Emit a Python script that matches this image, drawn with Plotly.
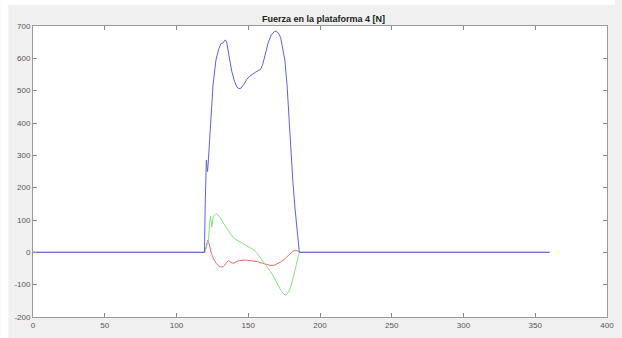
import plotly.graph_objects as go

# Force components on platform 4 (sampled time vs. newtons)
t_z = [0, 118, 119.5, 120, 120.4, 120.8, 121.2, 121.6, 122, 123, 124, 125.5, 127.5, 129.5,
       131, 132.5, 134, 135, 136.5, 138.5, 140.5, 142, 143.5, 145, 147, 149, 151, 153, 155,
       157, 158.5, 160, 162, 164, 166, 168, 169.5, 171, 172.5, 174, 175.5, 177, 178,
       179.5, 181, 182.5, 184, 185.6, 360]
f_z = [0, 0, 0, 150, 260, 285, 265, 250, 270, 340, 420, 520, 595, 630,
       645, 648, 657, 650, 610, 560, 528, 512, 506, 508, 520, 535, 545, 552, 557,
       562, 565, 580, 615, 650, 672, 682, 684, 678, 665, 635, 595, 520, 440,
       330, 225, 140, 65, 0, 0]

t_y = [0, 119, 120.5, 121.5, 122.3, 123, 123.7, 124.6, 125.5, 126.5, 127.6, 129, 131, 133,
       135.6, 138, 140.2, 143, 146, 150, 154, 157, 159.7, 162.5, 165.5, 168, 170, 172,
       173.5, 175, 176.5, 178, 179.7, 181.2, 182.6, 184, 185.6, 360]
f_y = [0, 0, 10, 25, 40, 85, 112, 78, 108, 115, 120, 115, 104, 88,
       69, 55, 43, 36, 28, 18, 7, -8, -24, -41, -60, -78, -96, -112,
       -122, -130, -132, -124, -106, -82, -55, -28, 0, 0]

t_x = [0, 119.6, 120.5, 121.3, 121.9, 122.8, 124.1, 125.8, 127.6, 129.5, 131, 132.5, 133.8,
       135, 136.1, 137, 138, 139.8, 141, 142.5, 145, 148.2, 152, 156.3, 160, 163.2, 166,
       168, 170, 172.5, 175, 177, 179, 181, 183, 184.5, 185.6, 360]
f_x = [0, 0, 15, 30, 38, 25, 0, -20, -34, -42, -46, -44, -39,
       -31, -26, -27, -32, -34, -31, -27, -25, -24, -26, -29, -34, -39, -41,
       -40, -36, -30, -22, -13, -4, 3, 6, 4, 0, 0]

x_ticks = [0, 50, 100, 150, 200, 250, 300, 350, 400]
y_ticks = [-200, -100, 0, 100, 200, 300, 400, 500, 600, 700]

W, H = 622, 338
ML, MR, MT, MB = 33, 8, 26, 21
pw, ph = W - ML - MR, H - MT - MB

fig = go.Figure()
fig.add_trace(go.Scatter(x=t_x, y=f_x, mode="lines", line=dict(color="#ee6a6a", width=1)))
fig.add_trace(go.Scatter(x=t_y, y=f_y, mode="lines", line=dict(color="#80e480", width=1)))
fig.add_trace(go.Scatter(x=t_z, y=f_z, mode="lines", line=dict(color="#5e5ef0", width=1)))

axis_common = dict(
    showline=True, linecolor="#9a9a9a", linewidth=1, mirror="ticks",
    ticks="inside", ticklen=4, tickcolor="#8a8a8a", tickwidth=1,
    showgrid=False, zeroline=False,
    tickfont=dict(family="Liberation Sans, Arial", size=8, color="#555555"),
)

def px_x(p):
    return (p - ML) / pw

def px_y(p):
    return (H - MB - p) / ph

# white border strips around the grey figure background
shapes = [
    dict(type="rect", xref="paper", yref="paper", layer="below",
         x0=px_x(0), x1=px_x(W), y0=px_y(5), y1=px_y(0),
         fillcolor="white", line=dict(width=0)),
    dict(type="rect", xref="paper", yref="paper", layer="below",
         x0=px_x(0), x1=px_x(8), y0=px_y(H), y1=px_y(0),
         fillcolor="white", line=dict(width=0)),
]

fig.update_layout(
    width=W, height=H,
    margin=dict(l=ML, r=MR, t=MT, b=MB),
    paper_bgcolor="#f0f0f0", plot_bgcolor="white",
    showlegend=False,
    title=dict(text="<b>Fuerza en la plataforma 4 [N]</b>",
               x=(ML + pw / 2) / W, xanchor="center",
               y=1 - 19 / H, yanchor="middle",
               font=dict(family="Liberation Sans, Arial", size=9, color="#222222")),
    xaxis=dict(range=[0, 400], tickvals=x_ticks, ticktext=[str(v) for v in x_ticks], **axis_common),
    yaxis=dict(range=[-200, 700], tickvals=y_ticks, ticktext=[str(v) for v in y_ticks], **axis_common),
    shapes=shapes,
)

fig.write_html("out.html")
